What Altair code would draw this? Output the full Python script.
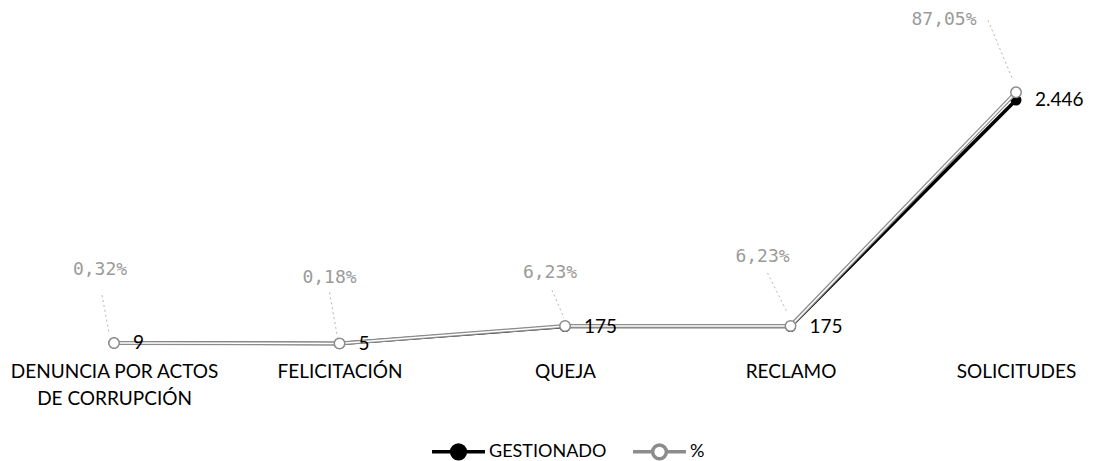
import altair as alt
import pandas as pd

# Tipos de solicitud gestionados y su participación en el total
categories = [
    "DENUNCIA POR ACTOS DE CORRUPCIÓN",
    "FELICITACIÓN",
    "QUEJA",
    "RECLAMO",
    "SOLICITUDES",
]
gestionado = [9, 5, 175, 175, 2446]
porcentaje = [0.32, 0.18, 6.23, 6.23, 87.05]
series_names = ["GESTIONADO", "%"]

df = pd.DataFrame({"tipo": categories, "gestionado": gestionado, "pct": porcentaje})
df["g_label"] = [f"{v:,}".replace(",", ".") for v in gestionado]
df["p_label"] = [f"{v:.2f}".replace(".", ",") + "%" for v in porcentaje]

FONT = "Lato"
PCT_FONT = "DejaVu Sans Mono"
PCT_GREY = "#9a9a9a"

# label placement (dx, dy) and leader segments (x, y, x2, y2 offsets) for the % labels
pct_label_shift = {
    "DENUNCIA POR ACTOS DE CORRUPCIÓN": (-14, -73),
    "FELICITACIÓN": (-10, -65),
    "QUEJA": (-15, -53),
    "RECLAMO": (-28, -69),
    "SOLICITUDES": (-72, -72),
}
pct_leader = {
    "DENUNCIA POR ACTOS DE CORRUPCIÓN": (-12, -48, -5, -10),
    "FELICITACIÓN": (-10, -51, -2, -6),
    "QUEJA": (-13, -36, -1, -8),
    "RECLAMO": (-23, -53, -3, -13),
    "SOLICITUDES": (-28, -72, -3, -12),
}

x_enc = alt.X(
    "tipo:N",
    sort=categories,
    scale=alt.Scale(type="point", padding=0.4235, align=0.597),
    axis=alt.Axis(
        title=None,
        domain=False,
        ticks=False,
        grid=False,
        labelAngle=0,
        labelFont=FONT,
        labelFontSize=19,
        labelColor="black",
        labelPadding=18,
        labelLineHeight=27,
        labelLimit=0,
        labelExpr="datum.label == 'DENUNCIA POR ACTOS DE CORRUPCIÓN' ? ['DENUNCIA POR ACTOS', 'DE CORRUPCIÓN'] : datum.label",
    ),
)
x2_enc = alt.X2("tipo:N")

y_g = alt.Y("gestionado:Q", scale=alt.Scale(domain=[0, 3450]), axis=None)
y_p = alt.Y("pct:Q", scale=alt.Scale(domain=[0, 119]), axis=None)
y2_p = alt.Y2("pct:Q")

stroke_enc = alt.Stroke(
    "series:N",
    scale=alt.Scale(domain=series_names, range=["black", "#8c8c8c"]),
    legend=alt.Legend(title=None),
)
fill_enc = alt.Fill(
    "series:N",
    scale=alt.Scale(domain=series_names, range=["black", "white"]),
    legend=alt.Legend(title=None),
)

base = alt.Chart(df)

# GESTIONADO series
g_base = base.transform_calculate(series="'GESTIONADO'")
g_line = g_base.mark_line(strokeWidth=3.5).encode(x=x_enc, y=y_g, stroke=stroke_enc)
g_pts = g_base.mark_point(shape="circle", size=90, strokeWidth=1.5, opacity=1).encode(
    x=x_enc, y=y_g, stroke=stroke_enc, fill=fill_enc
)
g_text = base.mark_text(
    align="left", baseline="middle", dx=19, font=FONT, fontSize=19, color="black"
).encode(x=x_enc, y=y_g, text="g_label:N")

# % series
p_base = base.transform_calculate(series="'%'")
p_line = p_base.mark_line(strokeWidth=4).encode(x=x_enc, y=y_p, stroke=stroke_enc)
p_inner = base.mark_line(strokeWidth=1.5, color="white").encode(x=x_enc, y=y_p)
p_pts = p_base.mark_point(shape="circle", size=110, strokeWidth=1.5, opacity=1).encode(
    x=x_enc, y=y_p, stroke=stroke_enc, fill=fill_enc
)

p_extra = []
for cat in categories:
    dx, dy = pct_label_shift[cat]
    ox, oy, ox2, oy2 = pct_leader[cat]
    sel = base.transform_filter(alt.datum.tipo == cat)
    p_extra.append(
        sel.mark_rule(
            color="#b5b5b5",
            strokeWidth=1,
            strokeDash=[2, 3],
            xOffset=ox,
            yOffset=oy,
            x2Offset=ox2,
            y2Offset=oy2,
        ).encode(x=x_enc, x2=x2_enc, y=y_p, y2=y2_p)
    )
    p_extra.append(
        sel.mark_text(
            align="center",
            baseline="middle",
            dx=dx,
            dy=dy,
            font=PCT_FONT,
            fontSize=18,
            color=PCT_GREY,
        ).encode(x=x_enc, y=y_p, text="p_label:N")
    )

g_layer = alt.layer(g_line, g_pts)
p_layer = alt.layer(p_line, p_inner, p_pts, *p_extra)
# value labels of GESTIONADO drawn last so they sit above both lines
g_text_layer = alt.layer(g_text)

chart = (
    alt.layer(g_layer, p_layer, g_text_layer)
    .resolve_scale(y="independent")
    .properties(
        width=1093,
        height=344,
        autosize=alt.AutoSizeParams(type="none"),
        padding={"left": 0, "right": 0, "top": 0, "bottom": 117},
        background="white",
    )
    .configure_view(stroke=None)
    .configure_legend(
        orient="none",
        legendX=430,
        legendY=423,
        direction="horizontal",
        symbolType="M-1,0H-0.26M0.26,0H1M0.26,0A0.26,0.26,0,1,1,-0.26,0A0.26,0.26,0,1,1,0.26,0Z",
        symbolSize=2800,
        symbolStrokeWidth=3.5,
        labelFont=FONT,
        labelFontSize=18,
        labelColor="black",
        labelOffset=2,
        columnPadding=19,
    )
)

chart.save("out.html", embed_options={"renderer": "svg", "actions": False})
